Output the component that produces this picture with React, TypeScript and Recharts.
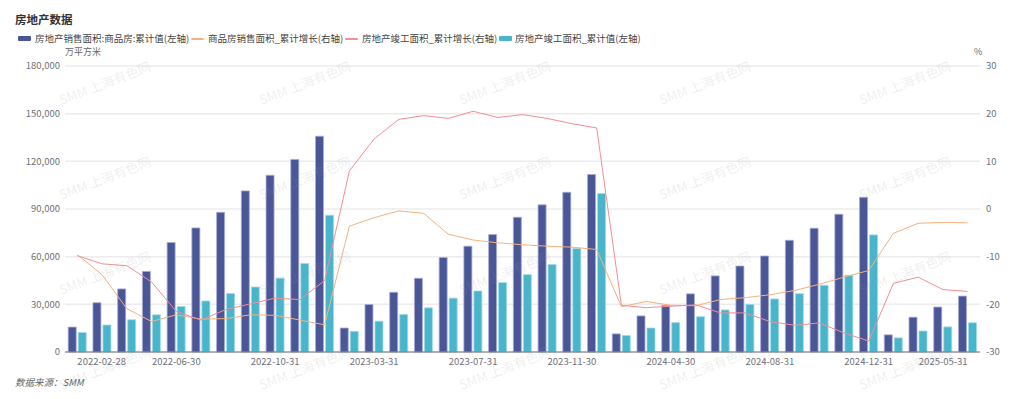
import { Bar, CartesianGrid, ComposedChart, Line, XAxis, YAxis } from "recharts";

const dates = [
  "2022-02-28", "2022-03-31", "2022-04-30", "2022-05-31", "2022-06-30", "2022-07-31",
  "2022-08-31", "2022-09-30", "2022-10-31", "2022-11-30", "2022-12-31",
  "2023-02-28", "2023-03-31", "2023-04-30", "2023-05-31", "2023-06-30", "2023-07-31",
  "2023-08-31", "2023-09-30", "2023-10-31", "2023-11-30", "2023-12-31",
  "2024-02-29", "2024-03-31", "2024-04-30", "2024-05-31", "2024-06-30", "2024-07-31",
  "2024-08-31", "2024-09-30", "2024-10-31", "2024-11-30", "2024-12-31",
  "2025-02-28", "2025-03-31", "2025-04-30", "2025-05-31",
];

// 房地产销售面积:商品房:累计值 (万平方米)
const salesArea = [
  15700, 31000, 39700, 50700, 68900, 78100, 87900, 101400, 111200, 121200, 135800,
  15100, 29900, 37600, 46400, 59500, 66600, 73900, 84800, 92600, 100500, 111700,
  11400, 22700, 29300, 36600, 47900, 54100, 60400, 70300, 77900, 86700, 97400,
  10800, 21900, 28300, 35200,
];

// 房地产竣工面积_累计值 (万平方米)
const completedArea = [
  12300, 17000, 20300, 23400, 28700, 32100, 36800, 40900, 46500, 55700, 86100,
  13000, 19400, 23600, 27800, 33900, 38400, 43700, 48700, 55100, 65200, 99800,
  10400, 15100, 18500, 22200, 26500, 30000, 33400, 36700, 42000, 48300, 73700,
  8900, 13200, 15800, 18400,
];

// 商品房销售面积_累计增长 (%)
const salesGrowth = [
  -9.6, -13.8, -20.9, -23.6, -22.2, -23.1, -23.0, -22.2, -22.3, -23.3, -24.3,
  -3.6, -1.8, -0.4, -0.9, -5.3, -6.5, -7.1, -7.5, -7.8, -8.0, -8.5,
  -20.5, -19.4, -20.2, -20.3, -19.0, -18.6, -18.0, -17.1, -15.8, -14.3, -12.9,
  -5.1, -3.0, -2.8, -2.9,
];

// 房地产竣工面积_累计增长 (%)
const completedGrowth = [
  -9.8, -11.5, -11.9, -15.3, -21.5, -23.3, -21.1, -19.9, -18.7, -19.0, -15.0,
  8.0, 14.7, 18.8, 19.6, 19.0, 20.5, 19.2, 19.8, 19.0, 17.9, 17.0,
  -20.2, -20.7, -20.4, -20.1, -21.8, -21.8, -23.6, -24.4, -23.9, -26.0, -27.7,
  -15.6, -14.3, -16.9, -17.3,
];

const leftTicks = [0, 30000, 60000, 90000, 120000, 150000, 180000];
const rightTicks = [-30, -20, -10, 0, 10, 20, 30];

const font = "'Noto Sans CJK SC', 'Noto Sans', sans-serif";
const axisColor = "#6e7079";
const darkBlue = "#4b5696";
const cyan = "#48b5ca";
const orange = "#f5b27e";
const pink = "#f58d95";

const chartData = dates.map((date, i) => ({
  date,
  salesArea: salesArea[i],
  completedArea: completedArea[i],
  salesGrowth: salesGrowth[i],
  completedGrowth: completedGrowth[i],
}));

function DateTick(props: any) {
  const { x, y, payload } = props;
  let anchor = "middle";
  if (payload.value === dates[0]) anchor = "start";
  if (payload.value === dates[dates.length - 1]) anchor = "end";
  return (
    <text x={x} y={y} dy={13} textAnchor={anchor} fill={axisColor} fontSize={9.5} fontFamily={font}>
      {payload.value}
    </text>
  );
}

const legendItems = [
  { label: "房地产销售面积:商品房:累计值(左轴)", color: darkBlue, kind: "bar", iconX: 18, textX: 35 },
  { label: "商品房销售面积_累计增长(右轴)", color: orange, kind: "line", iconX: 191, textX: 208 },
  { label: "房地产竣工面积_累计增长(右轴)", color: pink, kind: "line", iconX: 345, textX: 362 },
  { label: "房地产竣工面积_累计值(左轴)", color: cyan, kind: "bar", iconX: 499, textX: 515 },
];

const watermarkCols = [105, 305, 505, 705, 905];
const watermarkRows = [83, 178, 273, 368];

export default function App() {
  return (
    <div
      style={{
        position: "absolute",
        left: 0,
        top: 0,
        width: 1024,
        height: 399,
        background: "#fff",
        fontFamily: font,
        overflow: "hidden",
      }}
    >
      <div style={{ position: "absolute", left: 15, top: 11, fontSize: 11.5, fontWeight: 700, color: "#333" }}>
        房地产数据
      </div>

      {legendItems.map((item) => (
        <div key={item.label}>
          <div
            style={{
              position: "absolute",
              left: item.iconX,
              top: item.kind === "bar" ? 36 : 37.5,
              width: 13,
              height: item.kind === "bar" ? 5 : 2,
              background: item.color,
              borderRadius: 1,
            }}
          />
          <div
            style={{
              position: "absolute",
              left: item.textX,
              top: 31,
              fontSize: 9.5,
              lineHeight: "14px",
              color: "#444",
              whiteSpace: "nowrap",
            }}
          >
            {item.label}
          </div>
        </div>
      ))}

      <div style={{ position: "absolute", left: 65, top: 45, fontSize: 9, lineHeight: "13px", color: "#666" }}>
        万平方米
      </div>
      <div style={{ position: "absolute", left: 974, top: 45, fontSize: 9, lineHeight: "13px", color: "#666" }}>
        %
      </div>

      <div style={{ position: "absolute", left: 0, top: 0 }}>
        <ComposedChart
          width={1024}
          height={399}
          data={chartData}
          margin={{ top: 66, right: 0, bottom: 17, left: 0 }}
          barCategoryGap="13%"
          barGap={2}
        >
          <CartesianGrid yAxisId="left" vertical={false} stroke="#ececec" strokeWidth={1.5} />
          <XAxis
            dataKey="date"
            interval={3}
            height={30}
            tickSize={0}
            tickMargin={0}
            tickLine={false}
            axisLine={{ stroke: axisColor }}
            tick={<DateTick />}
          />
          <YAxis
            yAxisId="left"
            orientation="left"
            width={65}
            domain={[0, 180000]}
            ticks={leftTicks}
            tickSize={0}
            tickMargin={5}
            axisLine={false}
            tickLine={false}
            tick={{ fill: axisColor, fontSize: 9.5, fontFamily: font }}
            tickFormatter={(v: number) => v.toLocaleString("en-US")}
          />
          <YAxis
            yAxisId="right"
            orientation="right"
            width={44}
            domain={[-30, 30]}
            ticks={rightTicks}
            tickSize={0}
            tickMargin={6}
            axisLine={false}
            tickLine={false}
            tick={{ fill: axisColor, fontSize: 9.5, fontFamily: font }}
          />
          <Bar
            yAxisId="left"
            dataKey="salesArea"
            fill={darkBlue}
            stroke="#a6acd6"
            strokeWidth={0.8}
            isAnimationActive={false}
          />
          <Line
            yAxisId="right"
            type="linear"
            dataKey="salesGrowth"
            stroke={orange}
            strokeWidth={1}
            dot={false}
            activeDot={false}
            isAnimationActive={false}
          />
          <Line
            yAxisId="right"
            type="linear"
            dataKey="completedGrowth"
            stroke={pink}
            strokeWidth={1}
            dot={false}
            activeDot={false}
            isAnimationActive={false}
          />
          <Bar
            yAxisId="left"
            dataKey="completedArea"
            fill={cyan}
            stroke="#a2dbe6"
            strokeWidth={0.8}
            isAnimationActive={false}
          />
        </ComposedChart>
      </div>

      {watermarkRows.map((cy) =>
        watermarkCols.map((cx) => (
          <div
            key={`${cx}-${cy}`}
            style={{
              position: "absolute",
              left: cx - 60,
              top: cy - 9,
              width: 120,
              textAlign: "center",
              fontSize: 13,
              lineHeight: "18px",
              color: "rgba(150, 150, 150, 0.16)",
              transform: "rotate(-21deg)",
              whiteSpace: "nowrap",
              pointerEvents: "none",
            }}
          >
            SMM 上海有色网
          </div>
        ))
      )}

      <div
        style={{
          position: "absolute",
          left: 15,
          top: 375,
          fontSize: 9.5,
          lineHeight: "14px",
          fontStyle: "italic",
          color: "#666",
        }}
      >
        数据来源：SMM
      </div>
    </div>
  );
}
